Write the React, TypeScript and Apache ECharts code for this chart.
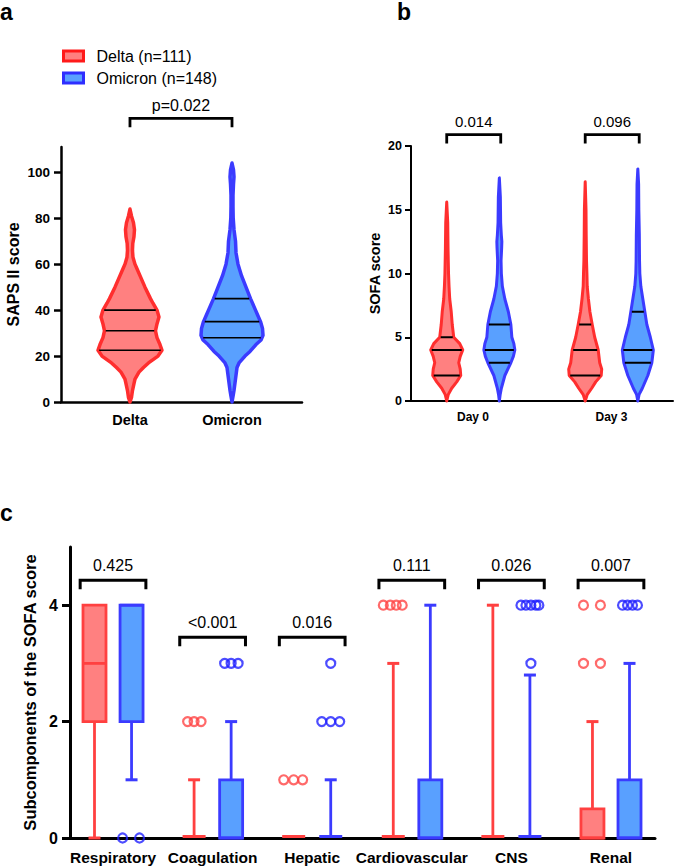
import React, { useEffect, useRef } from 'react';
import * as echarts from 'echarts';

const FONT = "'Liberation Sans', Arial, Helvetica, sans-serif";

// ---------- Panel a : SAPS II score ----------
const sapsCategories = ['Delta', 'Omicron'];
const sapsTicks = [0, 20, 40, 60, 80, 100];
const sapsDeltaLevels = [0, 2, 5, 8, 10, 13, 15, 17, 20, 22.5, 25, 28, 31, 34, 37, 40, 43, 45, 50, 55, 58, 60, 63, 66, 69, 72, 75, 78, 81, 84];
const sapsDeltaDensity = [0, 1.5, 2.5, 4, 5, 9, 13.5, 18.5, 28, 32, 30, 27, 25.5, 27, 29, 27, 23, 20.5, 15, 10, 7, 5, 3, 2.5, 2.8, 4, 4.5, 3.5, 1.5, 0];
const sapsDeltaQuartiles = [22.5, 31, 40];
const sapsOmicronLevels = [0, 3, 5, 10, 15, 17, 20, 22, 25, 27, 29, 32, 35, 38, 40, 45, 50, 55, 60, 65, 70, 75, 80, 85, 90, 95, 98, 101, 104];
const sapsOmicronDensity = [0, 1.2, 2, 3.5, 5, 7, 13, 18, 24, 29, 31, 30.5, 28.5, 25.5, 23.5, 18.5, 14, 9.5, 6, 4, 3.5, 2, 1.2, 1, 1, 1.5, 2, 1.5, 0];
const sapsOmicronQuartiles = [28, 35, 45];
const sapsPValue = 'p=0.022';

// ---------- Panel b : SOFA score ----------
const sofaCategories = ['Day 0', 'Day 3'];
const sofaTicks = [0, 5, 10, 15, 20];
const sofaDay0DeltaLevels = [0, 0.5, 1, 1.5, 2, 2.5, 3, 3.5, 4, 4.5, 5, 6, 7, 8, 9, 10, 12, 14, 15.6];
const sofaDay0DeltaDensity = [0, 1.5, 5, 10, 14, 13.5, 12, 13.5, 16, 13, 7, 5.5, 4.5, 3, 2.3, 1.8, 1.3, 1, 0];
const sofaDay0DeltaQuartiles = [2, 4, 5];
const sofaDay0OmicronLevels = [0, 0.5, 1, 2, 3, 3.5, 4, 4.5, 5, 6, 7, 8, 9, 10, 11, 12, 12.5, 13, 14, 16, 17.5];
const sofaDay0OmicronDensity = [0, 0.8, 2, 5.5, 11.5, 14, 15.5, 14.5, 12.5, 11.5, 9, 5.5, 3, 2, 1.7, 2.3, 2.5, 2, 1.3, 1, 0];
const sofaDay0OmicronQuartiles = [3, 4, 6];
const sofaDay3DeltaLevels = [0, 0.5, 1, 1.5, 2, 2.5, 3, 4, 5, 6, 7, 8, 9, 10, 11, 13, 15, 17.2];
const sofaDay3DeltaDensity = [0, 2, 6.5, 10.5, 16, 16.5, 14.5, 13, 9.5, 7, 4.7, 3.2, 2, 1.7, 1.3, 1, 0.8, 0];
const sofaDay3DeltaQuartiles = [2, 4, 6];
const sofaDay3OmicronLevels = [0, 0.5, 1, 2, 3, 4, 5, 6, 7, 8, 9, 10, 11, 13, 15, 17, 18.2];
const sofaDay3OmicronDensity = [0, 1.2, 4.5, 10, 14, 15.5, 12.5, 9, 7, 5, 3, 2, 1.7, 1.5, 1, 0.8, 0];
const sofaDay3OmicronQuartiles = [3, 4, 7];
const sofaPValues = ['0.014', '0.096'];

// ---------- Panel c : SOFA subcomponents ----------
const subCategories = ['Respiratory', 'Coagulation', 'Hepatic', 'Cardiovascular', 'CNS', 'Renal'];
const subTicks = [0, 2, 4];
// [min, Q1, median, Q3, max]
const deltaBoxes = [
  [0, 2, 3, 4, 4],
  [0, 0, 0, 0, 1],
  [0, 0, 0, 0, 0],
  [0, 0, 0, 0, 3],
  [0, 0, 0, 0, 4],
  [0, 0, 0, 0.5, 2],
];
const omicronBoxes = [
  [1, 2, 4, 4, 4],
  [0, 0, 0, 1, 2],
  [0, 0, 0, 0, 1],
  [0, 0, 0, 1, 4],
  [0, 0, 0, 0, 2.8],
  [0, 0, 0, 1, 3],
];
// [category, value, horizontal jitter]
const deltaOutliers = [
  [1, 2, -0.065], [1, 2, 0], [1, 2, 0.07],
  [2, 1, -0.1], [2, 1, 0], [2, 1, 0.09],
  [3, 4, -0.1], [3, 4, -0.03], [3, 4, 0.03], [3, 4, 0.09],
  [5, 3, -0.09], [5, 3, 0.08], [5, 4, -0.09], [5, 4, 0.08],
];
const omicronOutliers = [
  [0, 0, -0.09], [0, 0, 0.08],
  [1, 3, -0.065], [1, 3, 0], [1, 3, 0.07],
  [2, 2, -0.09], [2, 2, 0], [2, 2, 0.09], [2, 3, 0],
  [4, 3, 0.01], [4, 4, -0.09], [4, 4, -0.04], [4, 4, 0.01], [4, 4, 0.06], [4, 4, 0.09],
  [5, 4, -0.07], [5, 4, -0.02], [5, 4, 0.03], [5, 4, 0.08],
];
const subPValues = ['0.425', '<0.001', '0.016', '0.111', '0.026', '0.007'];
const subBracketLevels = [4.43, 3.45, 3.45, 4.43, 4.43, 4.43];

// ---------- styles ----------
const RED_FILL = '#FF8080';
const RED_STROKE = '#FF2E2E';
const BLUE_FILL = '#59A0FF';
const BLUE_STROKE = '#3B3BFF';
const RED_OUT = '#FF4545';
const BLUE_OUT = '#1F1FFF';

type Violin = { x: number; levels: number[]; dens: number[]; quart: number[] };

function interp(xs: number[], ys: number[], v: number) {
  for (let i = 0; i < xs.length - 1; i++) {
    if (v >= xs[i] && v <= xs[i + 1]) {
      const t = (v - xs[i]) / (xs[i + 1] - xs[i]);
      return ys[i] + t * (ys[i + 1] - ys[i]);
    }
  }
  return 0;
}

function violinSeries(name: string, axis: number, violins: Violin[], scale: number, fill: string, stroke: string, lw: number, qlw: number) {
  return {
    type: 'custom',
    name,
    xAxisIndex: axis,
    yAxisIndex: axis,
    silent: true,
    data: violins.map((v, i) => [v.x, 0, i]),
    renderItem: (params: any, api: any) => {
      const v = violins[api.value(2)];
      const cx = api.coord([v.x, 0])[0];
      const right = v.levels.map((l, i) => [cx + v.dens[i] * scale, api.coord([v.x, l])[1]]);
      const left = v.levels.map((l, i) => [cx - v.dens[i] * scale, api.coord([v.x, l])[1]]).reverse();
      const children: any[] = [
        {
          type: 'polygon',
          shape: { points: right.concat(left) },
          style: { fill, stroke, lineWidth: lw, lineJoin: 'round' },
        },
      ];
      v.quart.forEach((q) => {
        const w = interp(v.levels, v.dens, q) * scale - lw / 2 + 0.5;
        const y = api.coord([v.x, q])[1];
        children.push({
          type: 'line',
          shape: { x1: cx - w, y1: y, x2: cx + w, y2: y },
          style: { stroke: '#000', lineWidth: qlw },
        });
      });
      return { type: 'group', children };
    },
  };
}

function bracketSeries(axis: number, brackets: [number, number, number, string][], legPx: number, lw: number, fontSize: number, textGap: number) {
  return {
    type: 'custom',
    xAxisIndex: axis,
    yAxisIndex: axis,
    silent: true,
    clip: false,
    data: brackets.map((b, i) => [b[0], b[2], i]),
    renderItem: (params: any, api: any) => {
      const b = brackets[api.value(2)];
      const p1 = api.coord([b[0], b[2]]);
      const p2 = api.coord([b[1], b[2]]);
      return {
        type: 'group',
        children: [
          {
            type: 'polyline',
            shape: { points: [[p1[0], p1[1] + legPx], [p1[0], p1[1]], [p2[0], p2[1]], [p2[0], p2[1] + legPx]] },
            style: { stroke: '#000', lineWidth: lw, fill: 'none', lineJoin: 'miter' },
          },
          {
            type: 'text',
            x: (p1[0] + p2[0]) / 2,
            y: p1[1] - textGap,
            style: {
              text: b[3], fontSize, fontFamily: FONT, fill: '#000',
              align: 'center', verticalAlign: 'middle', textAlign: 'center', textVerticalAlign: 'middle',
            },
          },
        ],
      };
    },
  };
}

function boxSeries(name: string, boxes: number[][], offset: number, fill: string, stroke: string) {
  return {
    type: 'custom',
    name,
    xAxisIndex: 2,
    yAxisIndex: 2,
    silent: true,
    data: boxes.map((b, i) => [i + offset, ...b]),
    renderItem: (params: any, api: any) => {
      const x = api.value(0);
      const [mn, q1, md, q3, mx] = [1, 2, 3, 4, 5].map((d) => api.value(d));
      const cx = api.coord([x, 0])[0];
      const Y = (v: number) => api.coord([x, v])[1];
      const hw = 11.5;
      const cap = 6;
      const lw = 2.8;
      const ch: any[] = [];
      const line = (x1: number, y1: number, x2: number, y2: number, w = lw) =>
        ch.push({ type: 'line', shape: { x1, y1, x2, y2 }, style: { stroke, lineWidth: w } });
      if (mx > q3) {
        line(cx, Y(q3), cx, Y(mx));
        line(cx - cap, Y(mx), cx + cap, Y(mx), 3);
      }
      if (mn < q1) {
        line(cx, Y(q1), cx, Y(mn));
        line(cx - cap, Y(mn), cx + cap, Y(mn), 3);
      }
      if (q3 > q1) {
        ch.push({
          type: 'rect',
          shape: { x: cx - hw, y: Y(q3), width: hw * 2, height: Y(q1) - Y(q3) },
          style: { fill, stroke, lineWidth: lw },
        });
        line(cx - hw, Y(md), cx + hw, Y(md));
      } else {
        line(cx - hw, Y(q1) - 1.5, cx + hw, Y(q1) - 1.5, 3);
      }
      return { type: 'group', children: ch };
    },
  };
}

function xValueAxis(grid: number, min: number, max: number, labels: string[], fontSize: number, margin: number, lw: number) {
  return {
    type: 'value',
    gridIndex: grid,
    min,
    max,
    splitLine: { show: false },
    axisLine: { show: true, onZero: false, lineStyle: { color: '#000', width: lw } },
    axisTick: { show: false },
    axisLabel: {
      customValues: labels.map((_, i) => i),
      formatter: (v: number) => labels[Math.round(v)] ?? '',
      fontSize,
      fontWeight: 'bold',
      fontFamily: FONT,
      color: '#000',
      margin,
    },
  };
}

function yValueAxis(grid: number, max: number, ticks: number[], name: string, nameGap: number, nameSize: number, fontSize: number, margin: number, lw: number, tickLen: number) {
  return {
    type: 'value',
    gridIndex: grid,
    min: 0,
    max,
    name,
    nameLocation: 'middle',
    nameGap,
    nameRotate: 90,
    nameTextStyle: { fontSize: nameSize, fontWeight: 'bold', fontFamily: FONT, color: '#000' },
    splitLine: { show: false },
    axisLine: { show: true, onZero: false, lineStyle: { color: '#000', width: lw } },
    axisTick: { show: true, customValues: ticks, length: tickLen, lineStyle: { color: '#000', width: lw } },
    axisLabel: {
      customValues: ticks,
      fontSize,
      fontWeight: 'bold',
      fontFamily: FONT,
      color: '#000',
      margin,
    },
  };
}

export default function App() {
  const ref = useRef<HTMLDivElement>(null);

  useEffect(() => {
    if (!ref.current) return;
    const chart = echarts.init(ref.current, undefined, { renderer: 'svg' });

    const sapsDeltaViolins: Violin[] = [{ x: 0, levels: sapsDeltaLevels, dens: sapsDeltaDensity, quart: sapsDeltaQuartiles }];
    const sapsOmicronViolins: Violin[] = [{ x: 1, levels: sapsOmicronLevels, dens: sapsOmicronDensity, quart: sapsOmicronQuartiles }];
    const off = 0.19;
    const sofaDeltaViolins: Violin[] = [
      { x: 0 - off, levels: sofaDay0DeltaLevels, dens: sofaDay0DeltaDensity, quart: sofaDay0DeltaQuartiles },
      { x: 1 - off, levels: sofaDay3DeltaLevels, dens: sofaDay3DeltaDensity, quart: sofaDay3DeltaQuartiles },
    ];
    const sofaOmicronViolins: Violin[] = [
      { x: 0 + off, levels: sofaDay0OmicronLevels, dens: sofaDay0OmicronDensity, quart: sofaDay0OmicronQuartiles },
      { x: 1 + off, levels: sofaDay3OmicronLevels, dens: sofaDay3OmicronDensity, quart: sofaDay3OmicronQuartiles },
    ];
    const boxOff = 0.186;
    const bw = 0.33;

    const option: any = {
      animation: false,
      textStyle: { fontFamily: FONT },
      title: [
        { text: 'a', left: 0, top: 0, padding: 0, textStyle: { fontSize: 23, fontWeight: 'bold', color: '#000', fontFamily: FONT } },
        { text: 'b', left: 397, top: 0, padding: 0, textStyle: { fontSize: 23, fontWeight: 'bold', color: '#000', fontFamily: FONT } },
        { text: 'c', left: 0, top: 501, padding: 0, textStyle: { fontSize: 23, fontWeight: 'bold', color: '#000', fontFamily: FONT } },
      ],
      legend: {
        orient: 'vertical',
        left: 62,
        top: 48,
        padding: 0,
        icon: 'rect',
        itemWidth: 20,
        itemHeight: 10,
        itemGap: 6,
        selectedMode: false,
        formatter: (name: string) => '\u2002' + name,
        textStyle: { fontSize: 16, color: '#000', fontFamily: FONT },
        data: [
          { name: 'Delta (n=111)', itemStyle: { color: RED_FILL, borderColor: '#FF1A1A', borderWidth: 3 } },
          { name: 'Omicron (n=148)', itemStyle: { color: BLUE_FILL, borderColor: '#2E2EFF', borderWidth: 3 } },
        ],
      },
      grid: [
        { left: 61, top: 147, width: 241, height: 255 },
        { left: 411, top: 146, width: 262, height: 255 },
        { left: 70, top: 547, width: 585, height: 291 },
      ],
      xAxis: [
        xValueAxis(0, -0.676, 1.686, sapsCategories, 14.5, 10, 2.5),
        xValueAxis(1, -0.448, 1.444, sofaCategories, 12, 10, 2),
        xValueAxis(2, -0.432, 5.442, subCategories, 15.5, 11, 3),
      ],
      yAxis: [
        yValueAxis(0, 111, sapsTicks, 'SAPS II score', 40, 16, 13.5, 11, 2.5, 7),
        yValueAxis(1, 20, sofaTicks, 'SOFA score', 29, 14.5, 12.5, 9, 2, 6),
        yValueAxis(2, 5, subTicks, 'Subcomponents of the SOFA score', 27, 16.5, 16, 12, 3, 8),
      ],
      series: [
        violinSeries('Delta (n=111)', 0, sapsDeltaViolins, 1, RED_FILL, RED_STROKE, 3.5, 1.6),
        violinSeries('Omicron (n=148)', 0, sapsOmicronViolins, 1, BLUE_FILL, BLUE_STROKE, 3.5, 1.6),
        bracketSeries(0, [[0, 1, 123.5, sapsPValue]], 9, 2.8, 16, 13),
        violinSeries('Delta day', 1, sofaDeltaViolins, 1, RED_FILL, RED_STROKE, 3, 2),
        violinSeries('Omicron day', 1, sofaOmicronViolins, 1, BLUE_FILL, BLUE_STROKE, 3, 2),
        bracketSeries(1, sofaPValues.map((p, i) => [i - 0.19, i + 0.2, 20.9, p] as [number, number, number, string]), 9, 2.8, 15, 13),
        boxSeries('Delta box', deltaBoxes, -boxOff, RED_FILL, '#FF4040'),
        boxSeries('Omicron box', omicronBoxes, boxOff, BLUE_FILL, BLUE_STROKE),
        {
          type: 'scatter',
          name: 'Delta outliers',
          xAxisIndex: 2,
          yAxisIndex: 2,
          silent: true,
          symbol: 'circle',
          symbolSize: 9,
          itemStyle: { color: 'rgba(255,255,255,0)', borderColor: RED_OUT, borderWidth: 2.2 },
          data: deltaOutliers.map((o) => [o[0] - boxOff + o[2], o[1]]),
          z: 5,
        },
        {
          type: 'scatter',
          name: 'Omicron outliers',
          xAxisIndex: 2,
          yAxisIndex: 2,
          silent: true,
          symbol: 'circle',
          symbolSize: 9,
          itemStyle: { color: 'rgba(255,255,255,0)', borderColor: BLUE_OUT, borderWidth: 2.2 },
          data: omicronOutliers.map((o) => [o[0] + boxOff + o[2], o[1]]),
          z: 5,
        },
        bracketSeries(2, subPValues.map((p, i) => [i - bw, i + bw, subBracketLevels[i], p] as [number, number, number, string]), 9, 3, 16, 15),
      ],
    };

    chart.setOption(option);
    return () => chart.dispose();
  }, []);

  return <div ref={ref} style={{ position: 'absolute', left: 0, top: 0, width: 674, height: 868 }} />;
}
